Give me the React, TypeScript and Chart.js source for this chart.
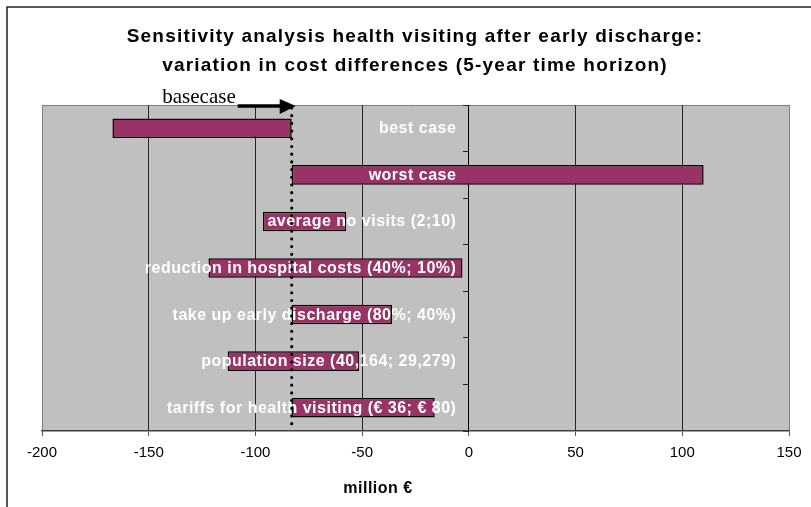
import React, { useEffect, useRef } from "react";
import { Chart, registerables } from "chart.js";

Chart.register(...registerables);

// Sensitivity ranges (million €) per parameter, drawn as floating bars
const categories = [
  "best case",
  "worst case",
  "average no visits (2;10)",
  "reduction in hospital costs (40%; 10%)",
  "take up early discharge (80%; 40%)",
  "population size (40,164; 29,279)",
  "tariffs for health visiting (€ 36; € 80)",
];
const lowValues = [-167, -83, -96.5, -122, -83, -113, -83];
const highValues = [-83, 110, -57.5, -3, -36, -51.5, -16];
const BASECASE = -83;

const xTicks = [-200, -150, -100, -50, 0, 50, 100, 150];
const titleLines = [
  "Sensitivity analysis health visiting after early discharge:",
  "variation in cost differences (5-year time horizon)",
];
const axisTitle = "million €";
const basecaseLabel = "basecase";

const SANS = "'Liberation Sans', Arial, sans-serif";
const SERIF = "'Liberation Serif', 'Times New Roman', serif";

const decorPlugin = {
  id: "decor",
  beforeDraw(chart: any) {
    const { ctx, chartArea: a, width, height } = chart;
    ctx.save();
    ctx.fillStyle = "#ffffff";
    ctx.fillRect(0, 0, width, height);

    // outer frame
    ctx.strokeStyle = "#222222";
    ctx.lineWidth = 1.5;
    ctx.beginPath();
    ctx.moveTo(7, height);
    ctx.lineTo(7, 7);
    ctx.lineTo(width, 7);
    ctx.stroke();

    // plot area
    ctx.fillStyle = "#c0c0c0";
    ctx.fillRect(a.left, a.top, a.right - a.left, a.bottom - a.top);
    ctx.strokeStyle = "#808080";
    ctx.lineWidth = 1;
    ctx.beginPath();
    ctx.moveTo(a.left, a.top + 0.5);
    ctx.lineTo(a.right, a.top + 0.5);
    ctx.stroke();

    // title
    ctx.fillStyle = "#000000";
    ctx.font = `bold 19px ${SANS}`;
    (ctx as any).letterSpacing = "1.2px";
    ctx.textAlign = "center";
    ctx.textBaseline = "alphabetic";
    ctx.fillText(titleLines[0], 415, 42);
    ctx.fillText(titleLines[1], 415, 70.5);

    // axis title
    ctx.font = `bold 16px ${SANS}`;
    (ctx as any).letterSpacing = "0.5px";
    ctx.fillText(axisTitle, a.left + 336, 493);
    ctx.restore();
  },
  afterDatasetsDraw(chart: any) {
    const { ctx, chartArea: a } = chart;
    const xs = chart.scales.x;
    const ys = chart.scales.y;
    const zeroX = xs.getPixelForValue(0);
    const bx = xs.getPixelForValue(BASECASE);
    ctx.save();

    // parameter labels
    ctx.font = `bold 16px ${SANS}`;
    (ctx as any).letterSpacing = "0.5px";
    ctx.fillStyle = "#ffffff";
    ctx.textAlign = "right";
    ctx.textBaseline = "alphabetic";
    categories.forEach((c, i) => {
      ctx.fillText(c, zeroX - 12.5, ys.getPixelForValue(i) + 5);
    });

    // base case dotted line
    ctx.strokeStyle = "#000000";
    ctx.lineWidth = 3.2;
    ctx.lineCap = "round";
    ctx.setLineDash([0, 7.7]);
    ctx.beginPath();
    ctx.moveTo(bx, a.top + 3);
    ctx.lineTo(bx, a.bottom - 3);
    ctx.stroke();
    ctx.setLineDash([]);

    // arrow and label
    const ay = a.top + 1;
    ctx.lineCap = "butt";
    ctx.lineWidth = 3.5;
    ctx.beginPath();
    ctx.moveTo(bx - 54, ay);
    ctx.lineTo(bx - 10, ay);
    ctx.stroke();
    ctx.fillStyle = "#000000";
    ctx.beginPath();
    ctx.moveTo(bx + 4, ay);
    ctx.lineTo(bx - 12, ay - 7);
    ctx.lineTo(bx - 12, ay + 8);
    ctx.closePath();
    ctx.fill();

    ctx.font = `21px ${SERIF}`;
    (ctx as any).letterSpacing = "0px";
    ctx.textAlign = "right";
    ctx.fillText(basecaseLabel, bx - 56, 103);
    ctx.restore();
  },
};

export default function App() {
  const canvasRef = useRef<HTMLCanvasElement | null>(null);

  useEffect(() => {
    const canvas = canvasRef.current;
    if (!canvas) return;
    const chart = new Chart(canvas, {
      type: "bar",
      data: {
        labels: categories,
        datasets: [
          {
            data: categories.map((_, i) => [lowValues[i], highValues[i]]) as any,
            backgroundColor: "#993366",
            borderColor: "#000000",
            borderWidth: 1.5,
            borderSkipped: false,
            categoryPercentage: 1,
            barPercentage: 0.42,
          },
        ],
      },
      options: {
        indexAxis: "y",
        responsive: false,
        devicePixelRatio: 1,
        animation: false,
        events: [],
        layout: { padding: { left: 42, right: 22, top: 105, bottom: 36 } },
        plugins: {
          legend: { display: false },
          title: { display: false },
          tooltip: { enabled: false },
        },
        scales: {
          x: {
            type: "linear",
            min: -200,
            max: 150,
            afterBuildTicks: (s: any) => {
              s.ticks = xTicks.map((v) => ({ value: v }));
            },
            afterFit: (s: any) => {
              s.height = 40;
            },
            grid: {
              color: (c: any) => {
                const v = c.tick?.value;
                if (v === -200 || v === 150) return "#808080";
                if (v === 0) return "#000000";
                return "#262626";
              },
              lineWidth: 1,
              drawTicks: true,
              tickLength: 5,
              tickColor: "#555555",
            },
            border: { display: true, color: "#404040", width: 1.5 },
            ticks: {
              color: "#000000",
              font: { family: SANS, size: 15 },
              padding: 8,
              maxRotation: 0,
              autoSkip: false,
            },
          },
          y: {
            type: "category",
            position: { x: 0 } as any,
            z: 1,
            grid: {
              drawOnChartArea: false,
              drawTicks: true,
              tickLength: 5,
              tickColor: "#222222",
              offset: true,
            },
            border: { display: true, color: "#000000", width: 1 },
            ticks: { display: false },
          },
        },
      } as any,
      plugins: [decorPlugin],
    });
    return () => chart.destroy();
  }, []);

  return (
    <div style={{ position: "absolute", left: 0, top: 0, width: 811, height: 507 }}>
      <canvas ref={canvasRef} width={811} height={507} style={{ display: "block" }} />
    </div>
  );
}
